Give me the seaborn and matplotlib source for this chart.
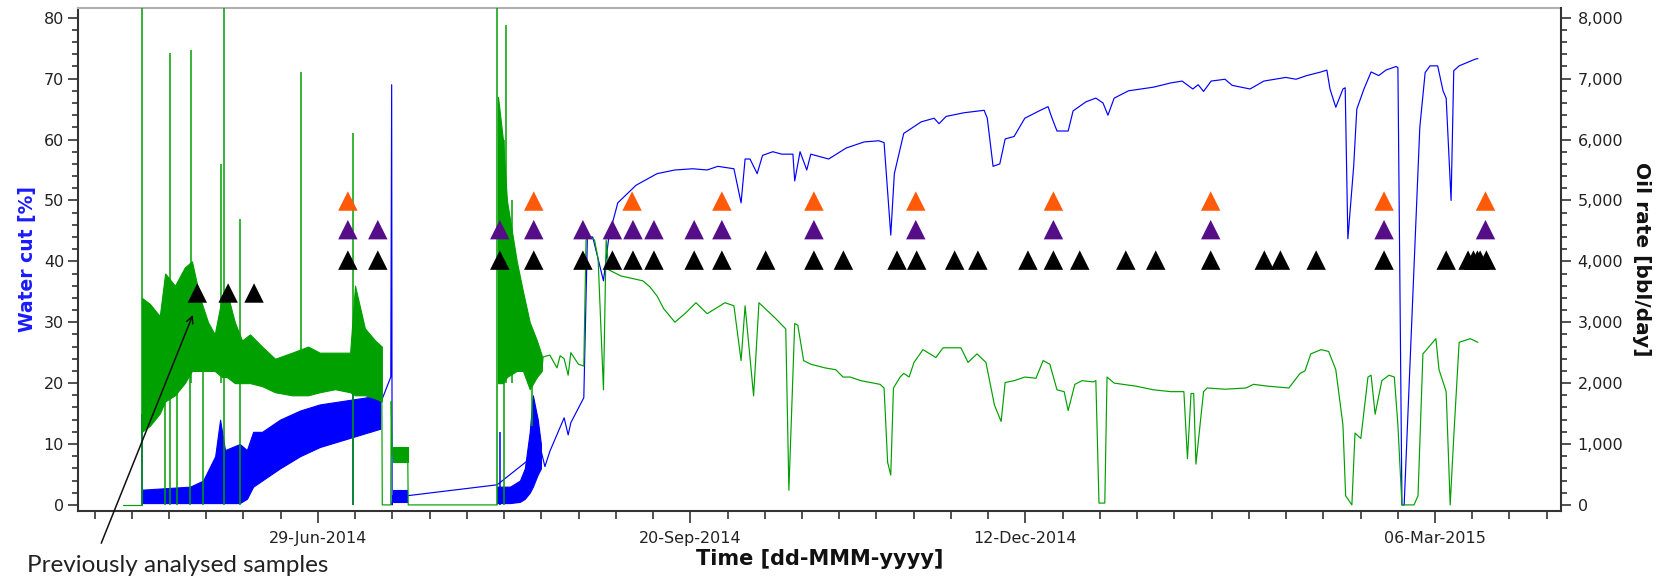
import numpy as np
import matplotlib
matplotlib.use("Agg")
import matplotlib.pyplot as plt
from matplotlib.ticker import MultipleLocator, FixedLocator, FuncFormatter
import seaborn as sns

# x is days relative to 29-Jun-2014
tick_days = [0, 250 / 3, 475 / 3, 250]
tick_labels = ["29-Jun-2014", "20-Sep-2014", "12-Dec-2014", "06-Mar-2015"]

# ---- water cut [%] (blue, left axis)
wc_band1_x = [-39.4, -28.6, -25.7, -23.0, -21.9, -20.8, -17.5, -15.9, -14.5, -12.5, -8.5,
              -4.0, 0.4, 4.9, 9.4, 13.9]
wc_band1_lo = [0.3, 0.3, 0.3, 0.3, 0.3, 0.3, 0.3, 1, 3, 4, 6, 8, 9.5, 10.5, 11.5, 12.5]
wc_band1_hi = [2.5, 3, 4, 8, 14, 9, 10, 9, 12, 12, 14, 15.5, 16.5, 17, 17.5, 18]
wc_band2_x = [16.8, 19.9]
wc_band2_lo = [0.5, 0.5]
wc_band2_hi = [2.5, 2.5]
wc_band3_x = [40.1, 43.0, 45.2, 46.3, 47.4, 48.1, 49.2, 49.9]
wc_band3_lo = [0.3, 0.3, 0.5, 1, 2, 3, 5, 6]
wc_band3_hi = [3, 3, 4, 6, 12, 18, 14, 10]

wc_spike_x = [-39.4, 7.8, 40.7]
wc_spike_lo = [0, 0, 0]
wc_spike_hi = [15, 25, 12]

wc_x = [13.9, 16.3, 16.5, 16.6, 16.8, 19.9, 40.1, 49.9, 50.8, 51.9, 55.1, 56.0, 56.6, 59.5,
        60.3, 61.5, 63.9, 65.1, 67.1, 71.2, 75.9, 79.9, 83.9, 87.1, 89.5, 93.1, 94.7, 95.6,
        96.7, 98.3, 99.5, 101.8, 103.8, 106.3, 106.7, 107.9, 109.4, 110.3, 114.3, 118.2,
        122.2, 125.5, 126.7, 128.2, 129.0, 131.1, 135.0, 137.9, 139.0, 140.6, 144.6, 149.1,
        149.8, 151.1, 152.6, 153.8, 155.8, 158.2, 161.4, 163.4, 164.3, 165.4, 167.9, 169.0,
        171.9, 174.1, 175.7, 176.8, 178.2, 181.4, 187.0, 190.9, 193.4, 195.8, 197.0, 198.2,
        199.9, 203.0, 204.6, 208.6, 211.7, 216.6, 218.9, 221.3, 224.5, 225.8, 226.5, 227.8,
        229.4, 229.9, 230.5, 231.8, 232.5, 234.1, 235.7, 237.4, 239.0, 241.3, 241.7, 242.6,
        243.1, 246.6, 247.8, 248.9, 250.6, 251.8, 252.5, 253.6, 254.2, 255.4, 259.0, 259.6]
wc_y = [16.5, 21, 69, 0, 1.5, 1.5, 3.3, 9, 6.3, 8.8, 14.3, 11.5, 13.5, 17.6,
        44, 44, 36.8, 44, 49.6, 52.5, 54.4, 55, 55.2, 55, 55.6, 55.2, 49.6, 56.8,
        56.8, 54.4, 57.4, 58, 57.6, 57.6, 53.2, 58, 55, 57.6, 56.8, 58.6,
        59.6, 59.8, 59.5, 44.3, 54.4, 61, 62.9, 63.5, 62.6, 63.8, 64.4, 64.8,
        63.5, 55.6, 56, 60.1, 60.5, 63.5, 64.7, 65.4, 63.5, 61.4, 61.4, 64.7,
        66.2, 66.8, 66, 64, 66.8, 68, 68.6, 69.3, 69.6, 68.3, 69, 67.9,
        69.6, 69.9, 68.9, 68.3, 69.6, 70.2, 69.9, 70.5, 71.1, 71.4, 68.3, 65.3,
        68.3, 68.5, 43.7, 55.6, 65, 68.3, 71.1, 70.5, 71.4, 72, 71.8, 0,
        0, 62, 71, 72.1, 72.1, 68, 66.8, 50, 71.3, 72.1, 73.2, 73.3]

# ---- oil rate [bbl/day] (green, right axis)
oil_band1_x = [-39.4, -37.6, -35.4, -34.2, -32.0, -29.8, -28.2, -26.4, -24.6, -23.1, -21.5,
               -20.4, -18.6, -17.0, -15.2, -12.5, -9.6, -5.8, -2.2, 0.4, 3.8, 7.2, 8.3,
               10.5, 12.8, 14.3]
oil_band1_lo = [1200, 1300, 1500, 1700, 1800, 2000, 2200, 2200, 2200, 2200, 2100, 2100, 2000,
                2000, 2000, 1950, 1850, 1800, 1800, 1850, 1900, 1850, 1800, 1800, 1750, 1700]
oil_band1_hi = [3400, 3300, 3100, 3800, 3600, 3900, 4000, 3400, 3000, 2800, 3400, 3500, 3000,
                2700, 2800, 2600, 2400, 2500, 2600, 2500, 2500, 2500, 3600, 2900, 2700, 2600]
oil_band2_x = [16.8, 20.1]
oil_band2_lo = [700, 700]
oil_band2_hi = [950, 950]
oil_band3_x = [40.3, 41.4, 42.3, 43.4, 44.5, 45.9, 47.4, 49.0, 50.1]
oil_band3_lo = [2000, 2000, 2100, 2150, 2200, 2200, 1900, 2100, 2200]
oil_band3_hi = [6700, 6000, 5000, 4500, 4000, 3500, 3000, 2700, 2450]

oil_spike_x = [-39.4, -34.2, -33.1, -31.6, -28.6, -28.4, -25.7, -21.7, -21.0, -17.5, -3.8,
               7.8, 40.1, 41.6, 42.1, 43.4, 47.9]
oil_spike_lo = [0, 0, 0, 0, 0, 2000, 0, 2000, 0, 0, 2000, 0, 0, 0, 2000, 2000, 1300]
oil_spike_hi = [8500, 2000, 7420, 2000, 2200, 7470, 2200, 5600, 8500, 4700, 7110, 6100,
                8500, 6000, 7880, 5000, 2000]

oil_seg1_x = [-43.6, -39.4]
oil_seg1_y = [0, 0]
oil_seg2_x = [14.3, 14.4, 16.3, 16.4, 16.6, 20.1, 20.2, 40.1]
oil_seg2_y = [1700, 0, 0, 1700, 800, 800, 0, 0]
oil_seg3_x = [50.1, 50.4, 51.9, 53.5, 54.2, 55.1, 56.0, 56.6, 58.3, 59.5, 60.0, 60.7, 61.9,
              62.7, 63.9, 64.5, 65.1, 67.8, 72.7, 74.3, 75.9, 77.4, 79.9, 82.4, 84.6, 87.1,
              91.1, 93.1, 94.7, 95.6, 97.5, 98.7, 102.3, 104.7, 105.4, 106.7, 107.4, 108.7,
              110.3, 113.5, 115.9, 117.5, 119.1, 121.5, 125.8, 126.7, 127.5, 128.2, 128.8,
              130.3, 131.1, 132.3, 133.4, 135.4, 138.3, 139.9, 143.9, 145.5, 147.5, 149.5,
              151.4, 152.9, 153.8, 155.8, 158.2, 160.7, 162.3, 163.8, 165.4, 167.0, 167.9,
              169.4, 171.0, 173.5, 174.1, 174.8, 176.1, 176.6, 178.2, 183.1, 187.0, 190.9,
              193.8, 194.6, 195.4, 196.0, 196.5, 198.2, 199.0, 203.0, 207.7, 209.4, 212.6,
              217.3, 219.8, 220.9, 222.2, 224.5, 226.2, 227.8, 229.4, 230.0, 231.4, 232.1,
              233.4, 235.0, 235.7, 236.6, 238.1, 239.7, 240.9, 241.7, 242.6, 245.3, 246.2,
              247.3, 250.2, 250.9, 252.5, 253.4, 254.2, 255.4, 257.9, 259.6]
oil_seg3_y = [2200, 2430, 2460, 2250, 2450, 2400, 2130, 2500, 2310, 2280, 4350, 4400, 4350,
              4040, 1890, 4350, 3860, 3760, 3680, 3580, 3430, 3220, 3000, 3160, 3320, 3140,
              3320, 3270, 2370, 3270, 1790, 3320, 3070, 2890, 240, 2980, 2950, 2370,
              2310, 2250, 2220, 2100, 2100, 2040, 1980, 1920, 700, 490, 1920,
              2100, 2160, 2100, 2340, 2550, 2420, 2580, 2580, 2340, 2480, 2340,
              1640, 1370, 2010, 2040, 2100, 2080, 2370, 2310, 1890, 1860, 1550,
              1980, 2040, 2020, 2040, 30, 30, 2100, 2000, 1950, 1890, 1860,
              1860, 760, 1830, 1830, 670, 1860, 1920, 1900, 1920, 1980, 1950,
              1920, 2160, 2200, 2480, 2550, 2520, 2220, 1310, 150, 0, 1180,
              1090, 2100, 2130, 1490, 2040, 2130, 2100, 1310, 0, 0, 150,
              2480, 2730, 2220, 1860, 0, 1120, 2670, 2730, 2670]

# ---- sample markers (row level in bbl/day on the right scale)
early_x = [-27.0, -20.1, -14.3]
orange_x = [6.7, 48.3, 70.3, 90.4, 111.0, 133.8, 164.6, 199.8, 238.6, 261.3]
purple_x = [6.7, 13.4, 40.7, 48.3, 59.3, 65.9, 70.5, 75.2, 84.2, 90.4, 111.0, 133.8, 164.6,
            199.8, 238.6, 261.3]
black_x = [6.7, 13.4, 40.7, 48.3, 59.3, 65.9, 70.5, 75.2, 84.2, 90.4, 100.2, 111.0, 117.6,
           129.6, 134.0, 142.5, 147.7, 158.9, 164.6, 170.5, 180.8, 187.5, 199.8, 211.8,
           215.4, 223.4, 238.6, 252.5, 257.4, 258.6, 259.5, 260.1, 261.5]
row_levels = {"early": 3480, "black": 4020, "purple": 4520, "orange": 4990}

BLUE = "#0000ff"
GREEN = "#00a000"
ORANGE = "#ff5a0a"
PURPLE = "#560e88"
INK = "#222222"

sns.set_style("ticks")
plt.rcParams["font.family"] = ["DejaVu Sans"]

fig = plt.figure(figsize=(16.6, 5.8), dpi=100)
ax = fig.add_axes([78 / 1660, 1 - 511 / 580, (1561 - 78) / 1660, (511 - 8) / 580])
ax2 = ax.twinx()

# water cut
for bx, blo, bhi in [(wc_band1_x, wc_band1_lo, wc_band1_hi),
                     (wc_band2_x, wc_band2_lo, wc_band2_hi),
                     (wc_band3_x, wc_band3_lo, wc_band3_hi)]:
    ax.fill_between(bx, blo, bhi, color=BLUE, lw=0.8)
ax.vlines(wc_spike_x, wc_spike_lo, wc_spike_hi, color=BLUE, lw=1.1)
sns.lineplot(x=wc_x, y=wc_y, ax=ax, color=BLUE, lw=0.85, sort=False, estimator=None)

# oil rate
for bx, blo, bhi in [(oil_band1_x, oil_band1_lo, oil_band1_hi),
                     (oil_band2_x, oil_band2_lo, oil_band2_hi),
                     (oil_band3_x, oil_band3_lo, oil_band3_hi)]:
    ax2.fill_between(bx, blo, bhi, color=GREEN, lw=0.8)
ax2.vlines(oil_spike_x, oil_spike_lo, oil_spike_hi, color=GREEN, lw=1.1)
for sx, sy in [(oil_seg1_x, oil_seg1_y), (oil_seg2_x, oil_seg2_y), (oil_seg3_x, oil_seg3_y)]:
    sns.lineplot(x=sx, y=sy, ax=ax2, color=GREEN, lw=0.85, sort=False, estimator=None)

# sample triangles
for xs, lvl, col in [(early_x, "early", "black"), (black_x, "black", "black"),
                     (purple_x, "purple", PURPLE), (orange_x, "orange", ORANGE)]:
    sns.scatterplot(x=xs, y=[row_levels[lvl]] * len(xs), ax=ax2, marker="^", s=196,
                    color=col, edgecolor="none", zorder=5, clip_on=False)

ax.set_xlim(-53.7, 278.2)
ax.set_ylim(-1.0, 81.6)
ax2.set_ylim(-100, 8160)

ax.xaxis.set_major_locator(FixedLocator(tick_days))
ax.set_xticklabels(tick_labels)
ax.xaxis.set_minor_locator(MultipleLocator(250 / 30))
ax.yaxis.set_major_locator(MultipleLocator(10))
ax.yaxis.set_minor_locator(MultipleLocator(2))
ax2.yaxis.set_major_locator(MultipleLocator(1000))
ax2.yaxis.set_minor_locator(MultipleLocator(200))
ax2.yaxis.set_major_formatter(FuncFormatter(lambda v, p: f"{v:,.0f}"))

ax.tick_params(axis="x", which="major", length=8.5, width=1.1, pad=6, labelsize=11.5,
               color=INK, labelcolor=INK)
ax.tick_params(axis="x", which="minor", length=5.5, width=1.1, color=INK)
ax.tick_params(axis="y", which="major", length=7, width=1.1, pad=3, labelsize=11.5,
               color=INK, labelcolor=INK)
ax.tick_params(axis="y", which="minor", length=4.5, width=1.1, color=INK)
ax2.tick_params(axis="y", which="major", length=7, width=1.1, pad=5, labelsize=11.5,
                color=INK, labelcolor=INK)
ax2.tick_params(axis="y", which="minor", length=4.5, width=1.1, color=INK)

ax.set_xlabel("Time [dd-MMM-yyyy]", fontsize=15, fontweight="bold", color="#111111",
              labelpad=2)
ax.set_ylabel("Water cut [%]", fontsize=13.5, fontweight="bold", color="#1a1aff", labelpad=5)
ax2.set_ylabel("Oil rate [bbl/day]", fontsize=14.5, fontweight="bold", color="#111111",
               rotation=270, labelpad=20)

for name in ["left", "bottom"]:
    ax.spines[name].set_color("#333333")
    ax.spines[name].set_linewidth(1.5)
ax.spines["top"].set_color("#b0b0b0")
ax.spines["top"].set_linewidth(1.5)
ax.spines["right"].set_visible(False)
for name in ["left", "bottom", "top"]:
    ax2.spines[name].set_visible(False)
ax2.spines["right"].set_color("#333333")
ax2.spines["right"].set_linewidth(1.5)

ax2.annotate("Previously analysed samples", xy=(-28.0, 31.2), xycoords=ax.transData,
             xytext=(27, 14), textcoords="figure pixels", ha="left", va="center",
             fontsize=17.5, family=["Lato", "DejaVu Sans"], color=INK, annotation_clip=False,
             arrowprops=dict(arrowstyle="->", color="#111111", lw=1.1, relpos=(0.23, 1.0),
                             shrinkA=7, shrinkB=0, mutation_scale=12))

fig.savefig("out.png", dpi=100)
